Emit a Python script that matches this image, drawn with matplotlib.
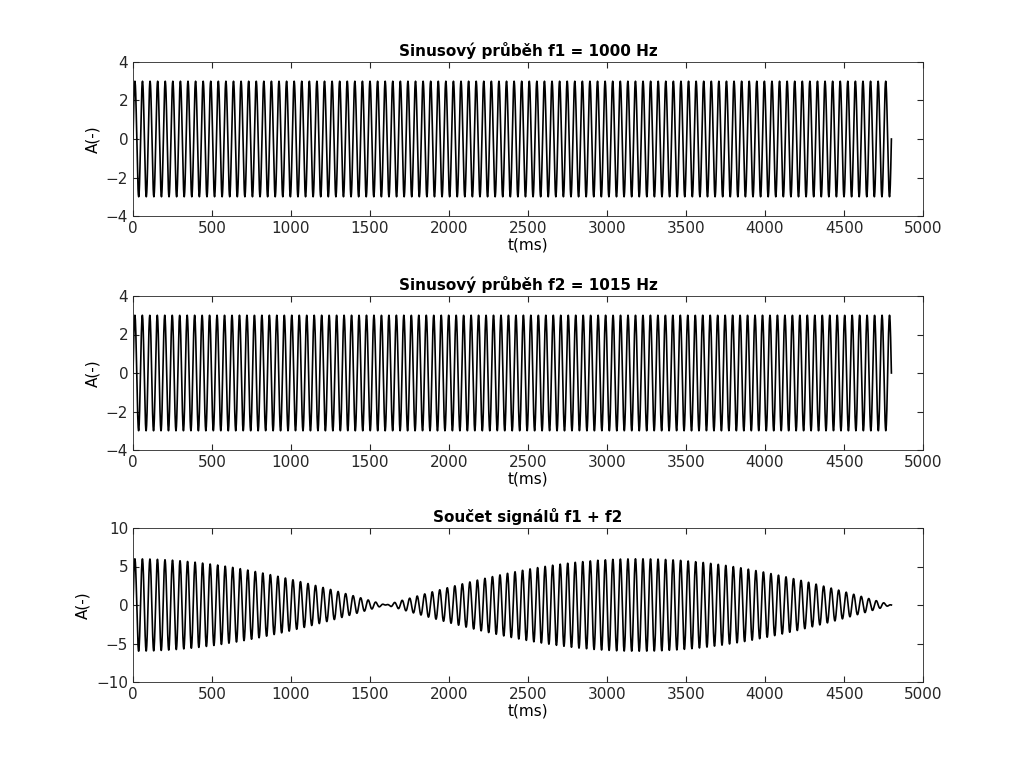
import numpy as np
import matplotlib
matplotlib.use("Agg")
import matplotlib.pyplot as plt

# signal parameters
fs = 48000            # samples per second
n_samples = 4801
freqs = [1000, 1015]  # Hz
amps = [3, 3]
titles = ["Sinusový průběh f1 = 1000 Hz", "Sinusový průběh f2 = 1015 Hz", "Součet signálů f1 + f2"]
ylims = [(-4, 4), (-4, 4), (-10, 10)]
yticks = [[-4, -2, 0, 2, 4], [-4, -2, 0, 2, 4], [-10, -5, 0, 5, 10]]
xticks = list(range(0, 5001, 500))

n = np.arange(n_samples)
s1 = amps[0] * np.sin(2 * np.pi * freqs[0] * n / fs)
s2 = amps[1] * np.sin(2 * np.pi * freqs[1] * n / fs)
signals = [s1, s2, s1 + s2]

fig = plt.figure(figsize=(10.24, 7.78), dpi=100)
W, H = 1024, 778
tops = [62, 296, 528]
for i in range(3):
    ax = fig.add_axes([133 / W, 1 - (tops[i] + 154) / H, 790 / W, 154 / H])
    ax.plot(n, signals[i], color="black", linewidth=1.2)
    ax.set_xlim(0, 5000)
    ax.set_ylim(*ylims[i])
    ax.set_xticks(xticks)
    ax.set_yticks(yticks[i])
    ax.tick_params(direction="in", labelsize=11, colors="#262626", length=4, top=True, right=True)
    for sp in ax.spines.values():
        sp.set_color("#262626")
        sp.set_linewidth(0.6)
    ax.set_title(titles[i], fontsize=11, fontweight="bold", pad=4)
    ax.set_xlabel("t(ms)", fontsize=11, labelpad=1)
    ax.set_ylabel("A(-)", fontsize=11)

fig.savefig("out.png", dpi=100)
